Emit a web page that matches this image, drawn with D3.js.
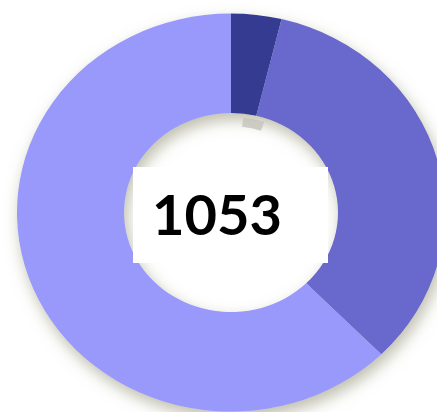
<!DOCTYPE html>
<html><head><meta charset="utf-8">
<script src="https://cdn.jsdelivr.net/npm/d3@7"></script>
<style>html,body{margin:0;padding:0;background:#fff;overflow:hidden}</style>
</head><body>
<svg id="c" width="437" height="412"></svg>
<script>
const categories = ["A", "B", "C"];
const values = [40, 356, 657];
const colors = ["#353a90", "#6767cd", "#9999fb"];
const totalLabel = "1053";

const svg = d3.select("#c");
const defs = svg.append("defs");
const f = defs.append("filter").attr("id","sh").attr("x","-20%").attr("y","-20%").attr("width","140%").attr("height","140%");
f.append("feDropShadow").attr("dx",3).attr("dy",7).attr("stdDeviation",8).attr("flood-color","#a0a088").attr("flood-opacity",0.7);

const cx = 231, cy = 212.5, R = 214, r = 107;
const g = svg.append("g").attr("transform",`translate(${cx},${cy}) scale(1,0.93)`);
const pie = d3.pie().sort(null).value(d=>d)(values);
const arc = d3.arc().innerRadius(r).outerRadius(R);
const ring = g.append("g").attr("filter","url(#sh)");
ring.selectAll("path").data(pie).join("path")
  .attr("d",arc).attr("fill",(d,i)=>colors[i]);

// small grey mark under the dark slice
const a0 = pie[0].startAngle, a1 = pie[0].endAngle;
g.append("path").attr("d", d3.arc().innerRadius(r-14).outerRadius(r-4).startAngle(a0+0.12).endAngle(a1+0.09)())
  .attr("fill","#c4c4bc").attr("opacity",0.8);

// label box
svg.append("rect").attr("x",133).attr("y",167).attr("width",195).attr("height",96).attr("fill","#fff");
svg.append("text").attr("x",217).attr("y",235).attr("text-anchor","middle")
  .attr("font-family","Lato, 'Open Sans', sans-serif").attr("font-weight","bold").attr("font-size",56)
  .attr("fill","#000").text(totalLabel);
</script>
</body></html>
